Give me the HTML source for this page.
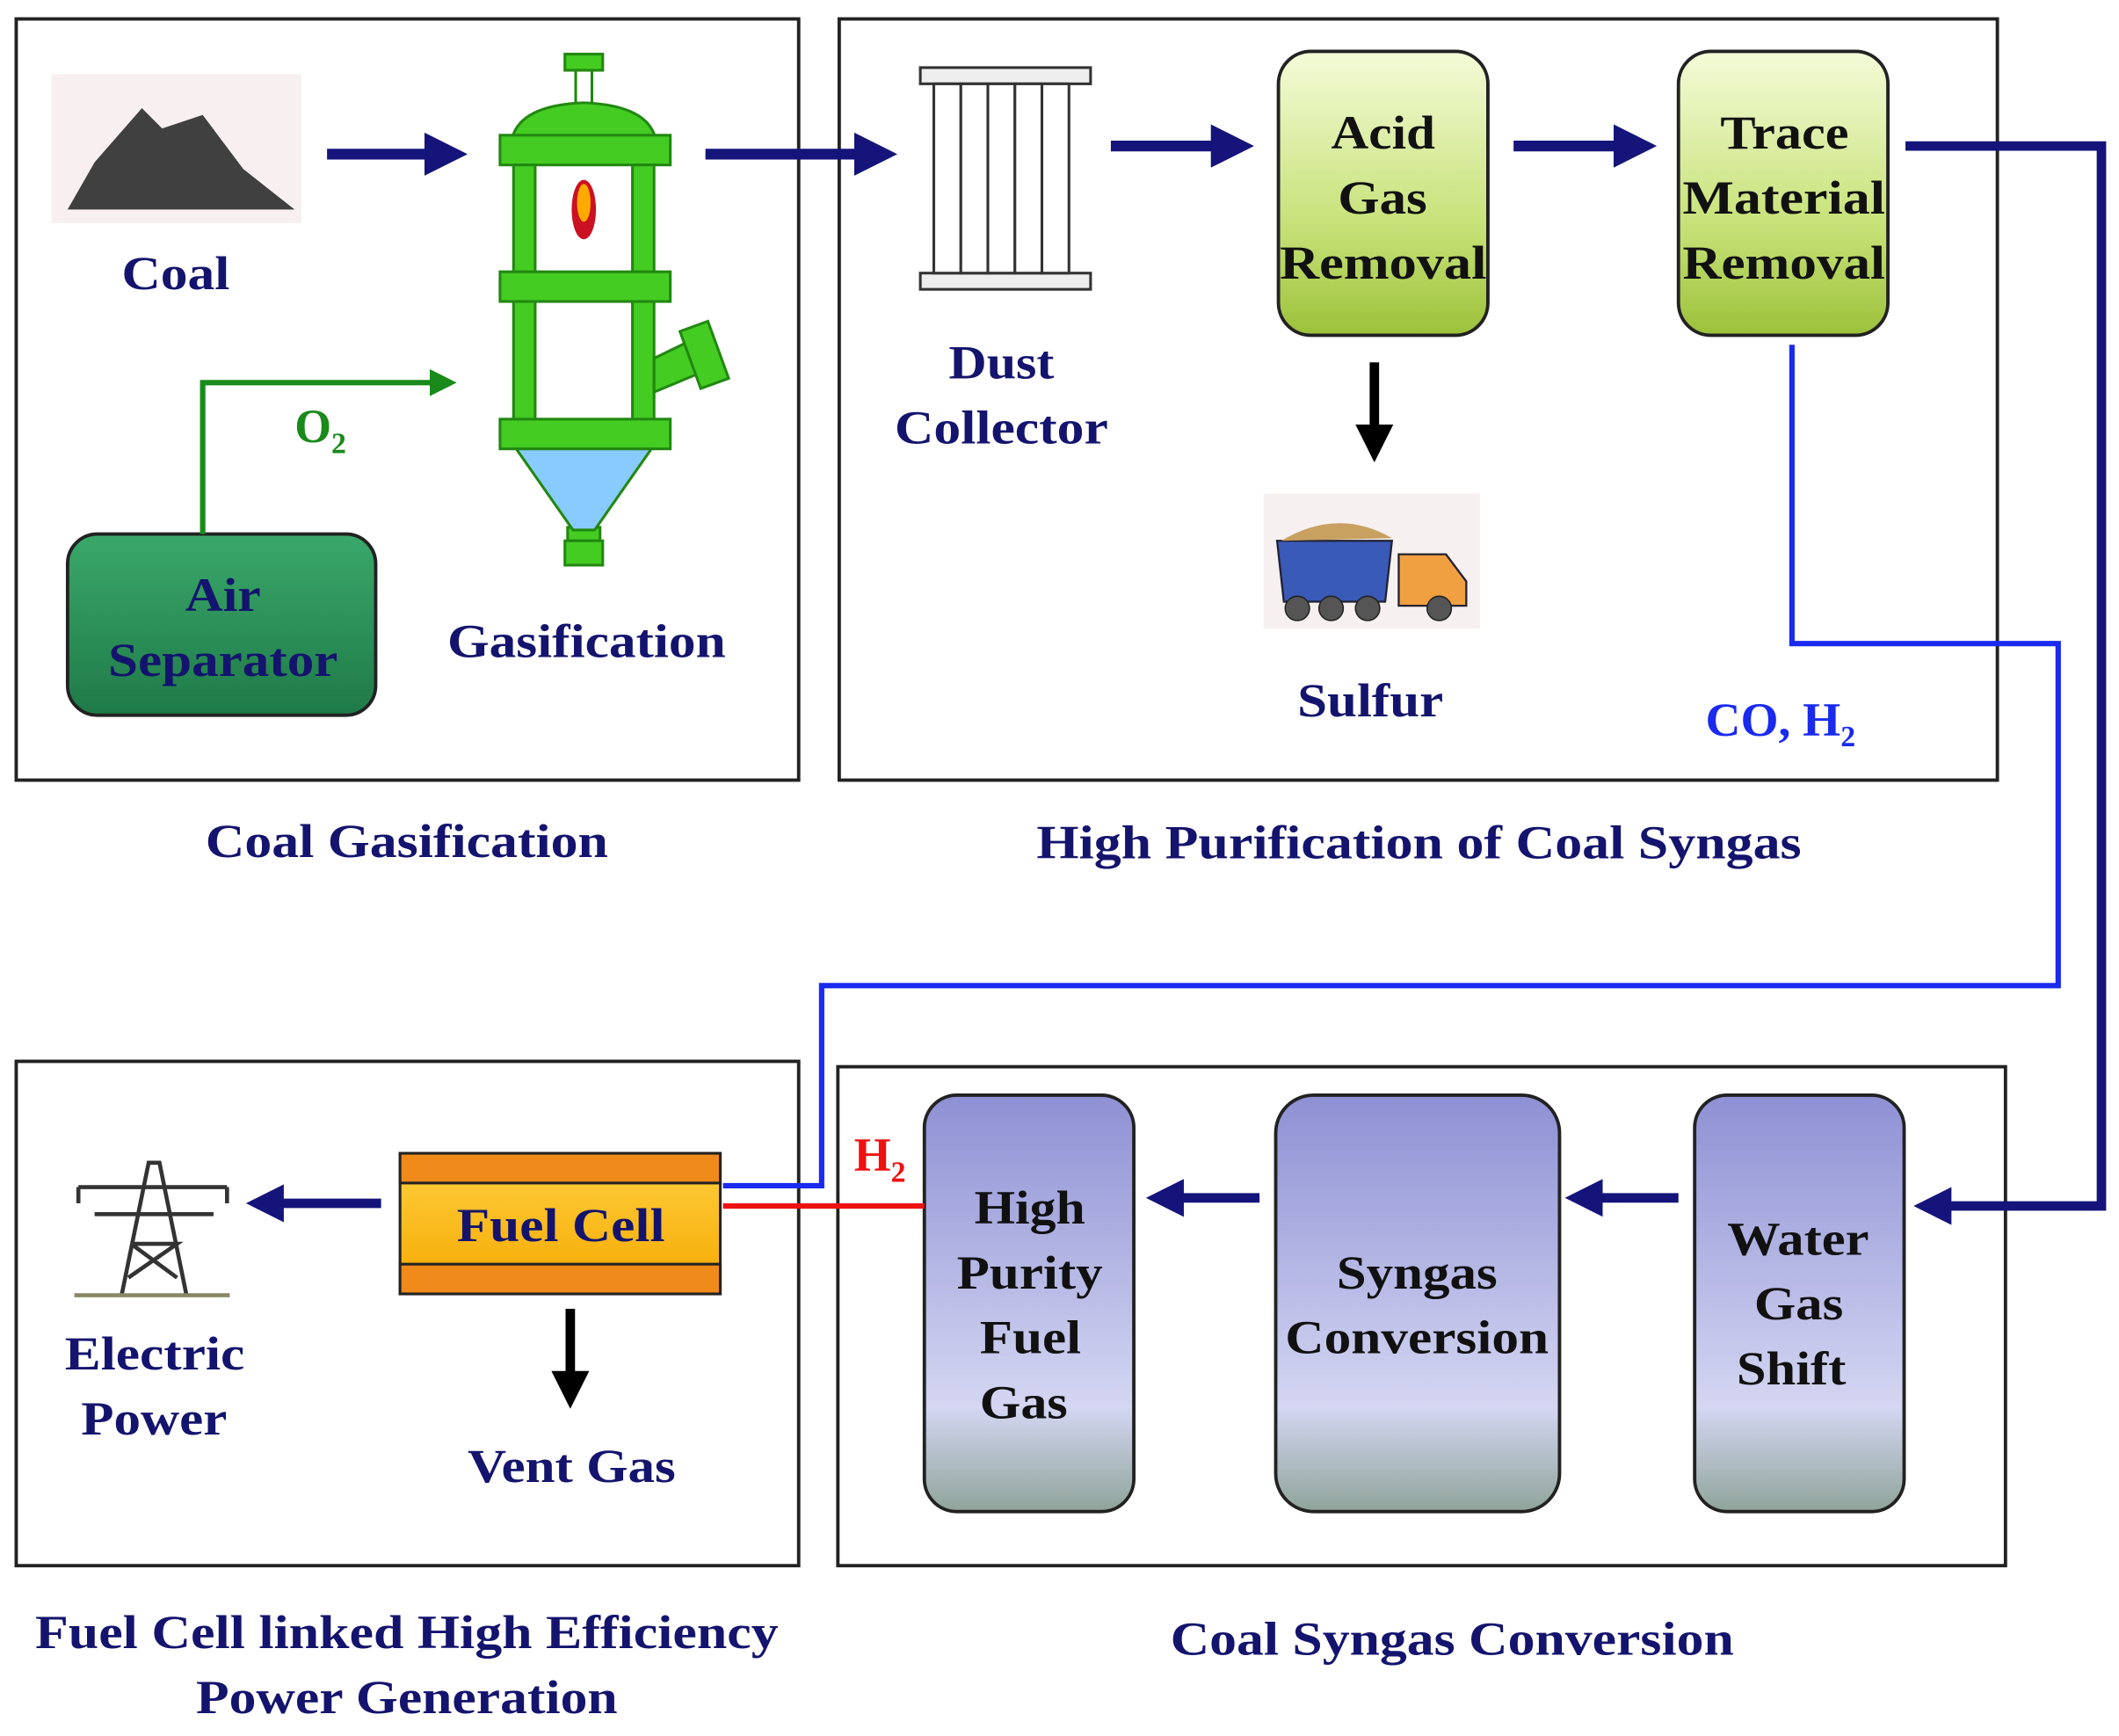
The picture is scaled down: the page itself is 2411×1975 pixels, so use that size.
<!DOCTYPE html>
<html><head><meta charset="utf-8"><style>
html,body{margin:0;padding:0;background:#fff}
svg{display:block}
text{font-family:"Liberation Serif",serif;font-weight:bold;fill:#14146e}
</style></head><body>
<svg width="2411" height="1975" viewBox="0 0 1568 1284" preserveAspectRatio="none" xmlns="http://www.w3.org/2000/svg">
<defs>
<linearGradient id="g1" x1="0" y1="0" x2="0" y2="1"><stop offset="0" stop-color="#f4fbd8"/><stop offset="0.6" stop-color="#c8e27a"/><stop offset="1" stop-color="#9cc23a"/></linearGradient>
<linearGradient id="g2" x1="0" y1="0" x2="0" y2="1"><stop offset="0" stop-color="#8e90d4"/><stop offset="0.75" stop-color="#d4d6f2"/><stop offset="1" stop-color="#8fa49a"/></linearGradient>
<linearGradient id="g3" x1="0" y1="0" x2="0" y2="1"><stop offset="0" stop-color="#3aa86a"/><stop offset="1" stop-color="#1f7a48"/></linearGradient>
<linearGradient id="g4" x1="0" y1="0" x2="0" y2="1"><stop offset="0" stop-color="#ffd040"/><stop offset="1" stop-color="#f5a800"/></linearGradient>
<marker id="an" markerWidth="4" markerHeight="4" refX="2" refY="2" orient="auto" markerUnits="strokeWidth"><path d="M0,0 L4,2 L0,4 z" fill="#14147a"/></marker>
<marker id="ag" markerWidth="5" markerHeight="5" refX="3" refY="2.5" orient="auto" markerUnits="strokeWidth"><path d="M0,0 L5,2.5 L0,5 z" fill="#1a8a1a"/></marker>
<marker id="ak" markerWidth="4" markerHeight="4" refX="2" refY="2" orient="auto" markerUnits="strokeWidth"><path d="M0,0 L4,2 L0,4 z" fill="#000"/></marker>
</defs>
<g fill="none" stroke="#222" stroke-width="2.5">
<rect x="12" y="14" width="579" height="563"/>
<rect x="621" y="14" width="857" height="563"/>
<rect x="12" y="785" width="579" height="373"/>
<rect x="620" y="789" width="864" height="369"/>
</g>
<rect x="38" y="55" width="185" height="110" fill="#f8f0f0"/>
<path d="M50,155 L70,120 L105,80 L120,95 L150,85 L180,125 L218,155 Z" fill="#404040"/>
<text x="90" y="214" font-size="35" textLength="80" lengthAdjust="spacingAndGlyphs">Coal</text>
<line x1="242" y1="114" x2="330" y2="114" stroke="#14147a" stroke-width="8" marker-end="url(#an)"/>
<g fill="#44cc22" stroke="#228811" stroke-width="2">
<rect x="418" y="40" width="28" height="12"/><rect x="426" y="52" width="12" height="30" fill="#fff"/>
<path d="M378,108 Q380,78 432,76 Q484,78 486,108 Z"/>
<rect x="370" y="100" width="126" height="22"/>
<rect x="380" y="122" width="16" height="200"/><rect x="468" y="122" width="16" height="200"/>
<rect x="370" y="201" width="126" height="22"/>
<rect x="370" y="310" width="126" height="22"/>
<path d="M484,265 L515,250 L520,275 L484,290 Z"/>
<rect x="510" y="240" width="22" height="45" transform="rotate(-20 521 262)"/>
<rect x="420" y="390" width="24" height="10"/><rect x="418" y="400" width="28" height="18"/>
</g>
<path d="M382,332 L482,332 L440,392 L424,392 Z" fill="#88ccff" stroke="#228811" stroke-width="2"/>
<ellipse cx="432" cy="155" rx="9" ry="22" fill="#cc1122"/><ellipse cx="432" cy="150" rx="5" ry="14" fill="#ffaa00"/>
<text x="331" y="486" font-size="35" textLength="206" lengthAdjust="spacingAndGlyphs">Gasification</text>
<rect x="50" y="395" width="228" height="134" rx="22" fill="url(#g3)" stroke="#222" stroke-width="2.5"/>
<text x="137" y="452" font-size="35" textLength="56" lengthAdjust="spacingAndGlyphs">Air</text>
<text x="80" y="500" font-size="35" textLength="170" lengthAdjust="spacingAndGlyphs">Separator</text>
<polyline points="150,395 150,283 330,283" fill="none" stroke="#1a8a1a" stroke-width="4" marker-end="url(#ag)"/>
<text x="218" y="327" font-size="35" style="fill:#1a8a1a">O<tspan font-size="22" dy="8">2</tspan></text>
<line x1="522" y1="114" x2="648" y2="114" stroke="#14147a" stroke-width="8" marker-end="url(#an)"/>
<rect x="681" y="50" width="126" height="12" fill="#eee" stroke="#333" stroke-width="2"/>
<rect x="681" y="202" width="126" height="12" fill="#eee" stroke="#333" stroke-width="2"/>
<g fill="#fff" stroke="#333" stroke-width="2"><rect x="691" y="62" width="20" height="140"/><rect x="711" y="62" width="20" height="140"/><rect x="731" y="62" width="20" height="140"/><rect x="751" y="62" width="20" height="140"/><rect x="771" y="62" width="20" height="140"/></g>
<text x="702" y="280" font-size="35" textLength="78" lengthAdjust="spacingAndGlyphs">Dust</text>
<text x="662" y="328" font-size="35" textLength="158" lengthAdjust="spacingAndGlyphs">Collector</text>
<line x1="822" y1="108" x2="912" y2="108" stroke="#14147a" stroke-width="8" marker-end="url(#an)"/>
<rect x="946" y="38" width="155" height="210" rx="24" fill="url(#g1)" stroke="#222" stroke-width="2.5"/>
<g style="fill:#111">
<text x="985" y="110" font-size="35" textLength="77" lengthAdjust="spacingAndGlyphs" style="fill:#111">Acid</text>
<text x="990" y="158" font-size="35" textLength="66" lengthAdjust="spacingAndGlyphs" style="fill:#111">Gas</text>
<text x="947" y="206" font-size="35" textLength="153" lengthAdjust="spacingAndGlyphs" style="fill:#111">Removal</text>
</g>
<line x1="1120" y1="108" x2="1210" y2="108" stroke="#14147a" stroke-width="8" marker-end="url(#an)"/>
<rect x="1242" y="38" width="155" height="210" rx="24" fill="url(#g1)" stroke="#222" stroke-width="2.5"/>
<text x="1273" y="110" font-size="35" textLength="95" lengthAdjust="spacingAndGlyphs" style="fill:#111">Trace</text>
<text x="1245" y="158" font-size="35" textLength="150" lengthAdjust="spacingAndGlyphs" style="fill:#111">Material</text>
<text x="1245" y="206" font-size="35" textLength="150" lengthAdjust="spacingAndGlyphs" style="fill:#111">Removal</text>
<line x1="1017" y1="268" x2="1017" y2="328" stroke="#000" stroke-width="7" marker-end="url(#ak)"/>
<rect x="935" y="365" width="160" height="100" fill="#f6f0f0"/>
<path d="M945,400 L1030,400 L1025,445 L950,445 Z" fill="#3a5ab8" stroke="#223" stroke-width="1.5"/>
<path d="M948,400 Q990,375 1030,398 Z" fill="#c8a060"/>
<path d="M1035,410 L1070,410 L1085,430 L1085,448 L1035,448 Z" fill="#f0a040" stroke="#223" stroke-width="1.5"/>
<g fill="#555" stroke="#222"><circle cx="960" cy="450" r="9"/><circle cx="985" cy="450" r="9"/><circle cx="1012" cy="450" r="9"/><circle cx="1065" cy="450" r="9"/></g>
<text x="960" y="530" font-size="35" textLength="108" lengthAdjust="spacingAndGlyphs">Sulfur</text>
<text x="1262" y="544" font-size="35" style="fill:#1a2aee"><tspan textLength="100" lengthAdjust="spacingAndGlyphs">CO, H</tspan><tspan font-size="22" dy="8">2</tspan></text>
<text x="152" y="634" font-size="35" textLength="298" lengthAdjust="spacingAndGlyphs">Coal Gasification</text>
<text x="767" y="635" font-size="35" textLength="566" lengthAdjust="spacingAndGlyphs">High Purification of Coal Syngas</text>
<polyline points="1326,255 1326,476 1523,476 1523,729 608,729 608,877 535,877" fill="none" stroke="#1a2aee" stroke-width="4"/>
<polyline points="1410,108 1555,108 1555,892 1430,892" fill="none" stroke="#14147a" stroke-width="7" marker-end="url(#an)"/>
<rect x="1254" y="810" width="155" height="308" rx="24" fill="url(#g2)" stroke="#222" stroke-width="2.5"/>
<text x="1278" y="928" font-size="35" textLength="105" lengthAdjust="spacingAndGlyphs" style="fill:#111">Water</text>
<text x="1298" y="976" font-size="35" textLength="66" lengthAdjust="spacingAndGlyphs" style="fill:#111">Gas</text>
<text x="1285" y="1024" font-size="35" textLength="81" lengthAdjust="spacingAndGlyphs" style="fill:#111">Shift</text>
<line x1="1242" y1="886" x2="1172" y2="886" stroke="#14147a" stroke-width="7" marker-end="url(#an)"/>
<rect x="944" y="810" width="210" height="308" rx="28" fill="url(#g2)" stroke="#222" stroke-width="2.5"/>
<text x="989" y="953" font-size="35" textLength="119" lengthAdjust="spacingAndGlyphs" style="fill:#111">Syngas</text>
<text x="951" y="1001" font-size="35" textLength="195" lengthAdjust="spacingAndGlyphs" style="fill:#111">Conversion</text>
<line x1="932" y1="886" x2="862" y2="886" stroke="#14147a" stroke-width="7" marker-end="url(#an)"/>
<rect x="684" y="810" width="155" height="308" rx="24" fill="url(#g2)" stroke="#222" stroke-width="2.5"/>
<text x="721" y="905" font-size="35" textLength="82" lengthAdjust="spacingAndGlyphs" style="fill:#111">High</text>
<text x="708" y="953" font-size="35" textLength="108" lengthAdjust="spacingAndGlyphs" style="fill:#111">Purity</text>
<text x="725" y="1001" font-size="35" textLength="75" lengthAdjust="spacingAndGlyphs" style="fill:#111">Fuel</text>
<text x="725" y="1049" font-size="35" textLength="65" lengthAdjust="spacingAndGlyphs" style="fill:#111">Gas</text>
<line x1="684" y1="892" x2="535" y2="892" stroke="#ee1111" stroke-width="4"/>
<text x="632" y="866" font-size="35" style="fill:#ee1111">H<tspan font-size="22" dy="8">2</tspan></text>
<rect x="296" y="853" width="237" height="104" fill="url(#g4)" stroke="#222" stroke-width="2"/>
<rect x="296" y="853" width="237" height="22" fill="#f08a1a" stroke="#222" stroke-width="2"/>
<rect x="296" y="935" width="237" height="22" fill="#f08a1a" stroke="#222" stroke-width="2"/>
<text x="338" y="918" font-size="35" textLength="154" lengthAdjust="spacingAndGlyphs">Fuel Cell</text>
<line x1="282" y1="890" x2="196" y2="890" stroke="#14147a" stroke-width="7" marker-end="url(#an)"/>
<line x1="422" y1="968" x2="422" y2="1028" stroke="#000" stroke-width="7" marker-end="url(#ak)"/>
<text x="346" y="1096" font-size="35" textLength="154" lengthAdjust="spacingAndGlyphs">Vent Gas</text>
<g fill="none" stroke="#333" stroke-width="3">
<path d="M90,958 L110,860 L118,860 L138,958"/><line x1="58" y1="878" x2="168" y2="878"/><line x1="70" y1="898" x2="158" y2="898"/>
<path d="M97,920 L131,920 L95,945 M131,945 L97,920 M131,920 L95,945"/>
<line x1="58" y1="878" x2="58" y2="890"/><line x1="168" y1="878" x2="168" y2="890"/>
<line x1="55" y1="958" x2="170" y2="958" stroke="#886" />
</g>
<text x="48" y="1013" font-size="35" textLength="133" lengthAdjust="spacingAndGlyphs">Electric</text>
<text x="60" y="1061" font-size="35" textLength="108" lengthAdjust="spacingAndGlyphs">Power</text>
<text x="26" y="1219" font-size="35" textLength="550" lengthAdjust="spacingAndGlyphs">Fuel Cell linked High Efficiency</text>
<text x="145" y="1267" font-size="35" textLength="312" lengthAdjust="spacingAndGlyphs">Power Generation</text>
<text x="866" y="1224" font-size="35" textLength="417" lengthAdjust="spacingAndGlyphs">Coal Syngas Conversion</text>
</svg>
</body></html>
